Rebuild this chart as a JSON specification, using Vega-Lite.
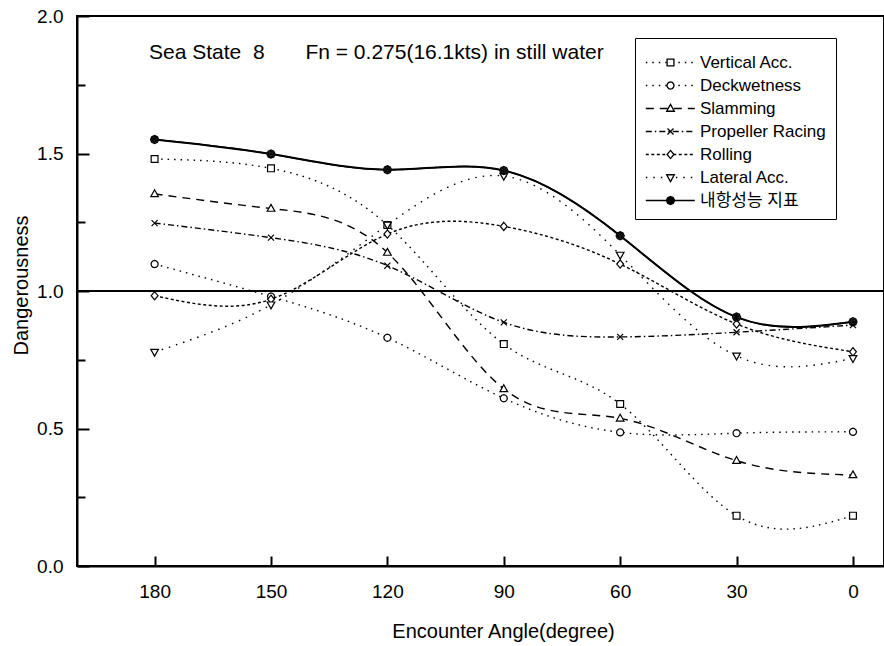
{
  "$schema": "https://vega.github.io/schema/vega-lite/v6.json",
  "width": 807,
  "height": 550,
  "autosize": {"type": "none"},
  "padding": {"left": 77, "top": 16, "right": 0, "bottom": 80},
  "background": "white",
  "title": {
    "text": "Sea State\u00a0\u00a08\u00a0\u00a0\u00a0\u00a0\u00a0\u00a0\u00a0Fn = 0.275(16.1kts) in still water",
    "anchor": "start", "frame": "group", "orient": "top", "offset": -73, "dx": 72,
    "baseline": "alphabetic", "fontSize": 21, "font": "Liberation Sans", "fontWeight": "normal", "color": "black"
  },
  "config": {
    "view": {"stroke": "black", "strokeWidth": 2},
    "font": "Liberation Sans",
    "axis": {
      "domainColor": "black", "domainWidth": 2, "tickColor": "black", "tickWidth": 2,
      "labelColor": "black", "titleColor": "black", "grid": false,
      "labelFont": "Liberation Sans", "titleFont": "Liberation Sans",
      "labelFontSize": 19, "titleFontSize": 20, "titleFontWeight": "normal"
    }
  },
  "data": {
    "values": [
      {"angle": 180, "value": 1.48, "series": "Vertical Acc."},
      {"angle": 150, "value": 1.446, "series": "Vertical Acc."},
      {"angle": 120, "value": 1.24, "series": "Vertical Acc."},
      {"angle": 90, "value": 0.807, "series": "Vertical Acc."},
      {"angle": 60, "value": 0.589, "series": "Vertical Acc."},
      {"angle": 30, "value": 0.183, "series": "Vertical Acc."},
      {"angle": 0, "value": 0.183, "series": "Vertical Acc."},
      {"angle": 180, "value": 1.098, "series": "Deckwetness"},
      {"angle": 150, "value": 0.98, "series": "Deckwetness"},
      {"angle": 120, "value": 0.83, "series": "Deckwetness"},
      {"angle": 90, "value": 0.61, "series": "Deckwetness"},
      {"angle": 60, "value": 0.486, "series": "Deckwetness"},
      {"angle": 30, "value": 0.483, "series": "Deckwetness"},
      {"angle": 0, "value": 0.488, "series": "Deckwetness"},
      {"angle": 180, "value": 1.353, "series": "Slamming"},
      {"angle": 150, "value": 1.3, "series": "Slamming"},
      {"angle": 120, "value": 1.14, "series": "Slamming"},
      {"angle": 90, "value": 0.644, "series": "Slamming"},
      {"angle": 60, "value": 0.537, "series": "Slamming"},
      {"angle": 30, "value": 0.383, "series": "Slamming"},
      {"angle": 0, "value": 0.331, "series": "Slamming"},
      {"angle": 180, "value": 1.247, "series": "Propeller Racing"},
      {"angle": 150, "value": 1.194, "series": "Propeller Racing"},
      {"angle": 120, "value": 1.092, "series": "Propeller Racing"},
      {"angle": 90, "value": 0.886, "series": "Propeller Racing"},
      {"angle": 60, "value": 0.833, "series": "Propeller Racing"},
      {"angle": 30, "value": 0.85, "series": "Propeller Racing"},
      {"angle": 0, "value": 0.876, "series": "Propeller Racing"},
      {"angle": 180, "value": 0.983, "series": "Rolling"},
      {"angle": 150, "value": 0.97, "series": "Rolling"},
      {"angle": 120, "value": 1.207, "series": "Rolling"},
      {"angle": 90, "value": 1.235, "series": "Rolling"},
      {"angle": 60, "value": 1.098, "series": "Rolling"},
      {"angle": 30, "value": 0.88, "series": "Rolling"},
      {"angle": 0, "value": 0.779, "series": "Rolling"},
      {"angle": 180, "value": 0.778, "series": "Lateral Acc."},
      {"angle": 150, "value": 0.95, "series": "Lateral Acc."},
      {"angle": 120, "value": 1.24, "series": "Lateral Acc."},
      {"angle": 90, "value": 1.418, "series": "Lateral Acc."},
      {"angle": 60, "value": 1.131, "series": "Lateral Acc."},
      {"angle": 30, "value": 0.764, "series": "Lateral Acc."},
      {"angle": 0, "value": 0.755, "series": "Lateral Acc."},
      {"angle": 180, "value": 1.551, "series": "내항성능 지표"},
      {"angle": 150, "value": 1.498, "series": "내항성능 지표"},
      {"angle": 120, "value": 1.441, "series": "내항성능 지표"},
      {"angle": 90, "value": 1.438, "series": "내항성능 지표"},
      {"angle": 60, "value": 1.201, "series": "내항성능 지표"},
      {"angle": 30, "value": 0.905, "series": "내항성능 지표"},
      {"angle": 0, "value": 0.888, "series": "내항성능 지표"}
    ]
  },
  "encoding": {
    "x": {
      "field": "angle", "type": "quantitative",
      "scale": {"domain": [200, -8], "nice": false, "zero": false},
      "axis": {
        "values": [180, 150, 120, 90, 60, 30, 0], "tickSize": -10, "labelPadding": 26,
        "title": "Encounter Angle(degree)", "titleX": 426, "titleY": 71, "titleBaseline": "alphabetic"
      }
    },
    "y": {
      "field": "value", "type": "quantitative",
      "scale": {"domain": [0, 2], "nice": false},
      "axis": {
        "values": [0, 0.25, 0.5, 0.75, 1, 1.25, 1.5, 1.75, 2],
        "labelExpr": "datum.value % 0.5 === 0 ? format(datum.value, '.1f') : ''",
        "tickSize": {"condition": {"test": "datum.value % 0.5 === 0", "value": -12}, "value": -8},
        "labelPadding": 26,
        "title": "Dangerousness", "titleX": -50, "titleY": 269, "titleAngle": -90, "titleBaseline": "alphabetic"
      }
    }
  },
  "layer": [
    {
      "mark": {"type": "rule", "color": "black", "strokeWidth": 1.5},
      "encoding": {"x": null, "y": {"datum": 1, "type": "quantitative"}}
    },
    {
      "mark": {"type": "line", "interpolate": "natural", "color": "black", "strokeWidth": 1.4},
      "encoding": {
        "detail": {"field": "series"},
        "strokeDash": {
          "field": "series", "type": "nominal",
          "scale": {
            "domain": ["Vertical Acc.", "Deckwetness", "Slamming", "Propeller Racing", "Rolling", "Lateral Acc.", "내항성능 지표"],
            "range": [[1.5, 5], [1.5, 5], [8, 6], [6, 3, 1.5, 3], [3, 2.5], [1.5, 6], [1, 0]]
          },
          "legend": {
            "title": null, "orient": "none", "legendX": 558, "legendY": 22,
            "strokeColor": "black", "fillColor": "transparent", "padding": 10,
            "symbolType": "M-1,0H2.58", "symbolSize": 750, "symbolStrokeWidth": 1.3, "symbolStrokeColor": "black",
            "labelFont": "Liberation Sans, Noto Sans CJK KR", "labelFontSize": 17, "labelColor": "black",
            "labelOffset": 26, "rowPadding": -2
          }
        }
      }
    },
    {
      "transform": [{"filter": "datum.series === '내항성능 지표'"}],
      "mark": {"type": "line", "interpolate": "natural", "color": "black", "strokeWidth": 2},
      "encoding": {}
    },
    {
      "mark": {"type": "point", "filled": true, "fill": "white", "stroke": "black", "strokeWidth": 1.2, "size": 750, "opacity": 1},
      "encoding": {
        "shape": {
          "field": "series", "type": "nominal",
          "sort": ["Vertical Acc.", "Deckwetness", "Slamming", "Propeller Racing", "Rolling", "Lateral Acc.", "내항성능 지표"],
          "scale": {
            "range": [
              "M-0.25,-0.25H0.25V0.25H-0.25Z",
              "M0.26,0L0.225,0.13L0.13,0.225L0,0.26L-0.13,0.225L-0.225,0.13L-0.26,0L-0.225,-0.13L-0.13,-0.225L0,-0.26L0.13,-0.225L0.225,-0.13Z",
              "M0,-0.3L0.28,0.2H-0.28Z",
              "M-0.22,-0.22L0.22,0.22M-0.22,0.22L0.22,-0.22",
              "M0,-0.3L0.25,0L0,0.3L-0.25,0Z",
              "M0,0.3L0.28,-0.2H-0.28Z",
              "M0.3,0L0.21,0.21L0,0.3L-0.21,0.21L-0.3,0L-0.21,-0.21L0,-0.3L0.21,-0.21ZM0.2,0L0.14,0.14L0,0.2L-0.14,0.14L-0.2,0L-0.14,-0.14L0,-0.2L0.14,-0.14ZM0.1,0L0.07,0.07L0,0.1L-0.07,0.07L-0.1,0L-0.07,-0.07L0,-0.1L0.07,-0.07ZM-0.04,0H0.04"
            ]
          },
          "legend": {
            "title": null, "orient": "none", "legendX": 558, "legendY": 22,
            "strokeColor": "transparent", "fillColor": "transparent", "padding": 10,
            "symbolSize": 750, "symbolStrokeWidth": 1.3, "symbolOffset": 11,
            "labelFont": "Liberation Sans, Noto Sans CJK KR", "labelFontSize": 17, "labelColor": "transparent",
            "labelOffset": 26, "rowPadding": -2
          }
        }
      }
    }
  ]
}
